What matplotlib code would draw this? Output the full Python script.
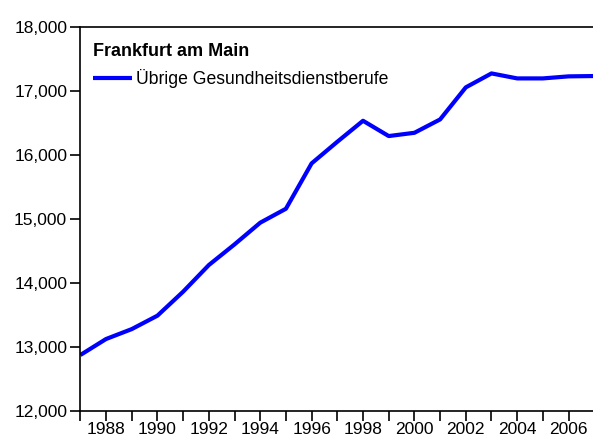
import matplotlib
matplotlib.use("Agg")
import matplotlib.pyplot as plt
from matplotlib.ticker import FuncFormatter, MultipleLocator

plt.rcParams['font.family'] = ['Liberation Sans', 'DejaVu Sans']

years = [1987, 1988, 1989, 1990, 1991, 1992, 1993, 1994, 1995, 1996, 1997,
         1998, 1999, 2000, 2001, 2002, 2003, 2004, 2005, 2006, 2007]
values = [12875, 13125, 13280, 13490, 13865, 14281, 14604, 14943, 15161, 15870, 16208,
          16536, 16297, 16348, 16557, 17058, 17276, 17198, 17198, 17230, 17235]
series_name = "Übrige Gesundheitsdienstberufe"
title_text = "Frankfurt am Main"

fig = plt.figure(figsize=(5.93, 4.37), dpi=100)
ax = fig.add_axes([0.1355, 0.0595, 0.8645, 0.8785])

ax.plot(years, values, color='#0000FF', lw=3.0, label=series_name, solid_capstyle='butt')

ax.set_xlim(1987, 2006.95)
ax.set_ylim(12000, 18000)

ax.xaxis.set_major_locator(MultipleLocator(2))
ax.xaxis.set_minor_locator(MultipleLocator(1))
ax.yaxis.set_major_locator(MultipleLocator(1000))
ax.yaxis.set_major_formatter(FuncFormatter(lambda v, p: f"{int(v):,}"))

ax.tick_params(axis='both', which='both', direction='out', length=7.5, width=1.2,
               labelsize=12.5, colors='black', pad=2)
ax.tick_params(axis='x', which='major', pad=0.5)
ax.spines['right'].set_visible(False)
for s in ['left', 'top', 'bottom']:
    ax.spines[s].set_linewidth(1.2)

leg = ax.legend(loc='upper left', bbox_to_anchor=(0.0, 0.99), frameon=False,
                title=title_text, alignment='left', fontsize=12.7,
                handlelength=2.2, handletextpad=0.25, borderaxespad=0.3)
leg.get_title().set_fontweight('bold')
leg.get_title().set_fontsize(13)

fig.savefig("out.png", dpi=100)
